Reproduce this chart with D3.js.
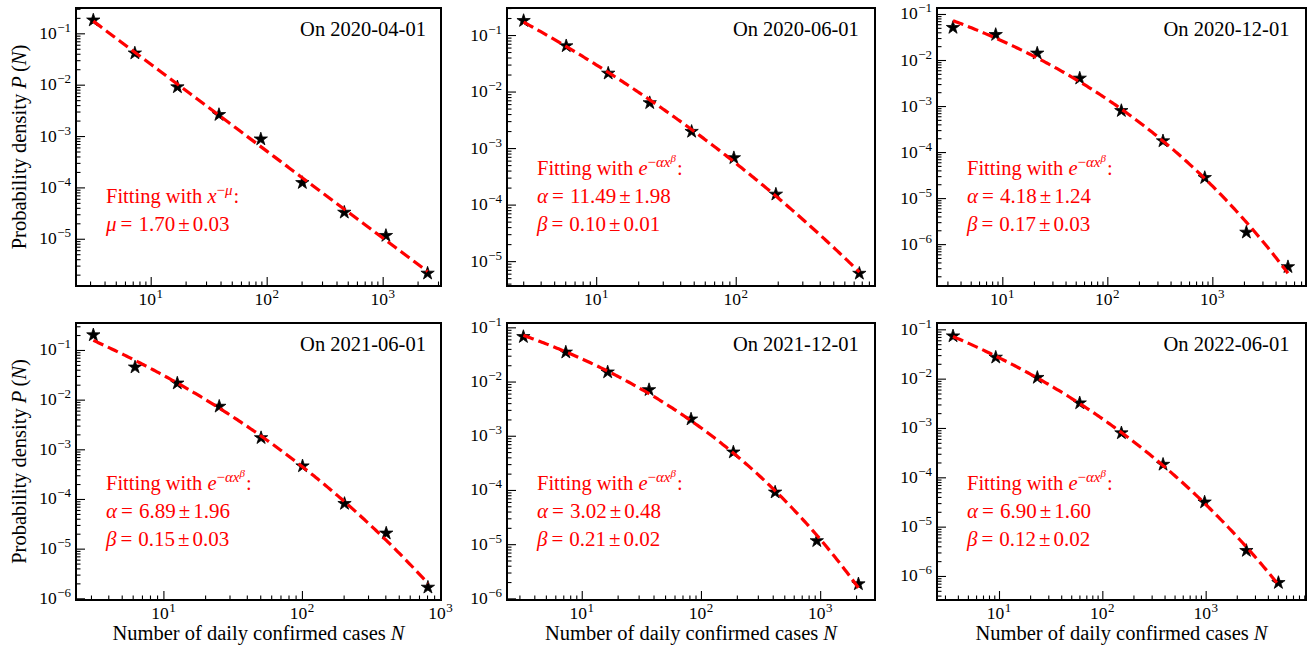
<!DOCTYPE html>
<html><head><meta charset="utf-8">
<script src="https://cdn.jsdelivr.net/npm/d3@7"></script>
<style>
body{margin:0;background:#fff}
svg{display:block}
text{font-family:"Liberation Serif","Times New Roman",serif;fill:#000}
</style>
</head><body>
<svg id="chart" width="1313" height="647"></svg>
<script>
// ---------------- data ----------------
const panelDates = ["On 2020-04-01","On 2020-06-01","On 2020-12-01","On 2021-06-01","On 2021-12-01","On 2022-06-01"];
const fitModels = ["power","stretched","stretched","stretched","stretched","stretched"];

const xValues1 = [3.2, 7.3, 17, 38.8, 89, 203, 467, 1067, 2440];
const yValues1 = [0.18, 0.041, 0.009, 0.0026, 0.00087, 1.23e-4, 3.26e-5, 1.15e-5, 2.12e-6];
const xValues2 = [3.02, 6.1, 12.2, 24.2, 48.3, 97, 194, 769];
const yValues2 = [0.179, 0.064, 0.021, 0.0063, 0.00196, 6.7e-4, 1.52e-4, 6.05e-6];
const xValues3 = [3.39, 8.65, 21.5, 54.6, 136, 339, 847, 2110, 5250];
const yValues3 = [0.0505, 0.0355, 0.014, 0.004, 7.9e-4, 1.74e-4, 2.77e-5, 1.8e-6, 3.2e-7];
const xValues4 = [3.12, 6.24, 12.6, 25.3, 50.7, 101, 203, 406, 812];
const yValues4 = [0.2, 0.045, 0.0214, 0.0073, 0.0017, 4.6e-4, 8.05e-5, 2.04e-5, 1.66e-6];
const xValues5 = [3.24, 7.35, 16.5, 36.7, 82.6, 187, 419, 937, 2094];
const yValues5 = [0.067, 0.0347, 0.0149, 0.00703, 0.00202, 4.97e-4, 9.07e-5, 1.15e-5, 1.84e-6];
const xValues6 = [3.59, 9.3, 23.5, 60.4, 153, 387, 977, 2477, 5060];
const yValues6 = [0.073, 0.027, 0.0105, 0.0032, 7.9e-4, 1.82e-4, 3.13e-5, 3.26e-6, 7.3e-7];

const paramLabels = [
  [["μ","1.70","0.03"]],
  [["α","11.49","1.98"],["β","0.10","0.01"]],
  [["α","4.18","1.24"],["β","0.17","0.03"]],
  [["α","6.89","1.96"],["β","0.15","0.03"]],
  [["α","3.02","0.48"],["β","0.21","0.02"]],
  [["α","6.90","1.60"],["β","0.12","0.02"]]
];

// axis ranges (log10 limits)
const xLogLimits = [[0.356,3.503],[0.361,2.998],[0.378,3.892],[0.369,3.004],[0.373,3.46],[0.4,3.971]];
const yLogLimits = [[-5.92,-0.507],[-5.44,-0.522],[-6.91,-0.87],[-6.034,-0.457],[-6.03,-0.92],[-6.487,-0.872]];

const xLabelText = "Number of daily confirmed cases ";
const yLabelText = "Probability density ";

// ---------------- layout ----------------
const cols = [[76,441],[507,875],[937,1306]];
const rows = [[8,286],[323,600]];
const RED = "#ff0000";

const svg = d3.select("#chart");
svg.append("rect").attr("width",1313).attr("height",647).attr("fill","#fff");

const xs = [xValues1,xValues2,xValues3,xValues4,xValues5,xValues6];
const ys = [yValues1,yValues2,yValues3,yValues4,yValues5,yValues6];

function linreg(u, v){
  const n=u.length, mu=d3.mean(u), mv=d3.mean(v);
  let sxy=0,sxx=0; for(let i=0;i<n;i++){sxy+=(u[i]-mu)*(v[i]-mv); sxx+=(u[i]-mu)**2;}
  const m=sxy/sxx, c=mv-m*mu;
  let sse=0; for(let i=0;i<n;i++){sse+=(v[i]-c-m*u[i])**2;}
  return {m,c,sse};
}
function fitPower(x,y){
  const r=linreg(x.map(Math.log), y.map(Math.log));
  return t=>Math.exp(r.c + r.m*Math.log(t));
}
function fitStretched(x,y){
  const v=y.map(Math.log); let best=null;
  for(let b=0.01;b<=1.0;b+=0.0005){
    const r=linreg(x.map(t=>Math.pow(t,b)), v);
    if(!best||r.sse<best.sse) best={...r,b};
  }
  return t=>Math.exp(best.c + best.m*Math.pow(t,best.b));
}

function starPath(R){
  const r=R*0.382, pts=[];
  for(let i=0;i<10;i++){
    const a=-Math.PI/2 + i*Math.PI/5, rr=i%2?r:R;
    pts.push([rr*Math.cos(a), rr*Math.sin(a)]);
  }
  return "M"+pts.map(p=>p[0].toFixed(2)+","+p[1].toFixed(2)).join("L")+"Z";
}
const STAR = starPath(7);

function pow10(textSel, k, supSize, lift){
  textSel.append("tspan").text("10");
  textSel.append("tspan").attr("dy",-lift).attr("dx",0.5).attr("font-size",supSize).text(k<0?"\u2212"+(-k):String(k));
}

for(let p=0;p<6;p++){
  const col=cols[p%3], row=rows[Math.floor(p/3)];
  const [L,R]=col, [T,B]=row, W=R-L, H=B-T;
  const x=d3.scaleLog().domain(xLogLimits[p].map(v=>10**v)).range([L,R]);
  const y=d3.scaleLog().domain(yLogLimits[p].map(v=>10**v)).range([B,T]);
  const g=svg.append("g");

  // ticks
  const xl=xLogLimits[p], yl=yLogLimits[p];
  const majX=[], minX=[], majY=[], minY=[];
  for(let k=Math.floor(xl[0]);k<=Math.ceil(xl[1]);k++){
    if(k>=xl[0]&&k<=xl[1]) majX.push(10**k);
    for(let m=2;m<=9;m++){const v=m*10**k, lv=Math.log10(v); if(lv>=xl[0]&&lv<=xl[1]) minX.push(v);}
  }
  for(let k=Math.floor(yl[0]);k<=Math.ceil(yl[1]);k++){
    if(k>=yl[0]&&k<=yl[1]) majY.push(10**k);
    for(let m=2;m<=9;m++){const v=m*10**k, lv=Math.log10(v); if(lv>=yl[0]&&lv<=yl[1]) minY.push(v);}
  }
  const axStyle=s=>{s.select(".domain").remove(); s.selectAll("line").attr("stroke","#000").attr("stroke-width",1.1);};
  g.append("g").attr("transform",`translate(0,${B})`).call(d3.axisBottom(x).tickValues(majX).tickSize(-9).tickFormat("")).call(axStyle);
  g.append("g").attr("transform",`translate(0,${B})`).call(d3.axisBottom(x).tickValues(minX).tickSize(-4.5).tickFormat("")).call(axStyle);
  g.append("g").attr("transform",`translate(${L},0)`).call(d3.axisLeft(y).tickValues(majY).tickSize(-9).tickFormat("")).call(axStyle);
  g.append("g").attr("transform",`translate(${L},0)`).call(d3.axisLeft(y).tickValues(minY).tickSize(-4.5).tickFormat("")).call(axStyle);

  // tick labels
  majX.forEach(v=>{
    const t=g.append("text").attr("x",x(v)).attr("y",B+19).attr("text-anchor","middle").attr("font-size",17.5);
    pow10(t, Math.round(Math.log10(v)), 13, 7);
  });
  majY.forEach(v=>{
    const t=g.append("text").attr("x",L-5).attr("y",y(v)+5.5).attr("text-anchor","end").attr("font-size",17.5);
    pow10(t, Math.round(Math.log10(v)), 13, 7);
  });

  // frame
  g.append("rect").attr("x",L).attr("y",T).attr("width",W).attr("height",H)
    .attr("fill","none").attr("stroke","#000").attr("stroke-width",2);

  // data stars
  const pts=xs[p].map((xv,i)=>[xv,ys[p][i]]);
  g.selectAll("path.star").data(pts).enter().append("path").attr("class","star")
    .attr("d",STAR).attr("transform",d=>`translate(${x(d[0])},${y(d[1])})`)
    .attr("fill","#000").attr("stroke","#000").attr("stroke-width",0.8);

  // fit curve
  const f = fitModels[p]==="power" ? fitPower(xs[p],ys[p]) : fitStretched(xs[p],ys[p]);
  const x0=Math.log10(d3.min(xs[p])), x1=Math.log10(d3.max(xs[p]));
  const curve=d3.range(0,201).map(i=>{const t=10**(x0+(x1-x0)*i/200); return [t,f(t)];});
  g.append("path").attr("d",d3.line().x(d=>x(d[0])).y(d=>y(d[1]))(curve))
    .attr("fill","none").attr("stroke",RED).attr("stroke-width",3.2).attr("stroke-dasharray","11,5");

  // date label
  g.append("text").attr("x",L+0.614*W).attr("y",T+28).attr("font-size",20.5).text(panelDates[p]);

  // fit annotation
  const lines=paramLabels[p];
  const lastBase=T+222.6, lh=27.7;
  const firstBase=lastBase-lh*lines.length;
  const t0=g.append("text").attr("x",L+30).attr("y",firstBase).attr("font-size",20.5).style("fill",RED);
  t0.append("tspan").text("Fitting with ");
  if(fitModels[p]==="power"){
    t0.append("tspan").attr("font-style","italic").text("x");
    t0.append("tspan").attr("dy",-8).attr("font-size",15).text("\u2212");
    t0.append("tspan").attr("font-size",15).attr("font-style","italic").text("μ");
    t0.append("tspan").attr("dy",8).attr("dx",1).text(":");
  } else {
    t0.append("tspan").attr("font-style","italic").text("e");
    t0.append("tspan").attr("dy",-8).attr("font-size",15).text("\u2212");
    t0.append("tspan").attr("font-size",15).attr("font-style","italic").text("αx");
    t0.append("tspan").attr("dy",-5).attr("font-size",11).attr("font-style","italic").text("β");
    t0.append("tspan").attr("dy",13).attr("dx",1).text(":");
  }
  lines.forEach((ln,i)=>{
    const t=g.append("text").attr("x",L+30).attr("y",firstBase+lh*(i+1)).attr("font-size",21).style("fill",RED);
    t.append("tspan").attr("font-style","italic").text(ln[0]);
    t.append("tspan").attr("dx",4).text("=");
    t.append("tspan").attr("dx",6).text(ln[1]);
    t.append("tspan").attr("dx",3).text("±");
    t.append("tspan").attr("dx",3).text(ln[2]);
  });

  // axis titles
  if(p%3===0){
    const yl2=g.append("text").attr("transform",`translate(26,${(T+B)/2}) rotate(-90)`)
      .attr("text-anchor","middle").attr("font-size",20.5);
    yl2.append("tspan").text(yLabelText);
    yl2.append("tspan").attr("font-style","italic").text("P");
    yl2.append("tspan").text("\u2009(");
    yl2.append("tspan").attr("font-style","italic").text("N");
    yl2.append("tspan").text(")");
  }
  if(p>=3){
    const xl2=g.append("text").attr("x",(L+R)/2).attr("y",640).attr("text-anchor","middle").attr("font-size",20.5);
    xl2.append("tspan").text(xLabelText);
    xl2.append("tspan").attr("font-style","italic").text("N");
  }
}
</script>
</body></html>
